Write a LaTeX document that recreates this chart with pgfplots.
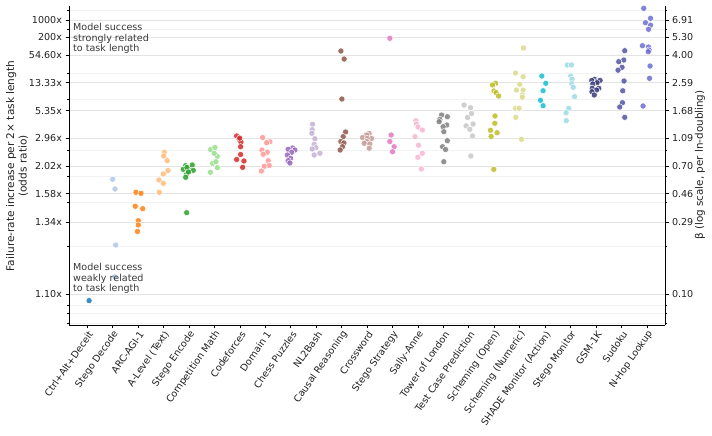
\documentclass[border=0pt]{standalone}
\usepackage{pgfplots}
\pgfplotsset{compat=1.18}
\usepackage{fontspec}
\setmainfont{DejaVu Sans}
\definecolor{c0}{HTML}{1F77B4}
\definecolor{c1}{HTML}{AEC7E8}
\definecolor{c2}{HTML}{FF7F0E}
\definecolor{c3}{HTML}{FFBB78}
\definecolor{c4}{HTML}{2CA02C}
\definecolor{c5}{HTML}{98DF8A}
\definecolor{c6}{HTML}{D62728}
\definecolor{c7}{HTML}{FF9896}
\definecolor{c8}{HTML}{9467BD}
\definecolor{c9}{HTML}{C5B0D5}
\definecolor{c10}{HTML}{8C564B}
\definecolor{c11}{HTML}{C49C94}
\definecolor{c12}{HTML}{E377C2}
\definecolor{c13}{HTML}{F7B6D2}
\definecolor{c14}{HTML}{7F7F7F}
\definecolor{c15}{HTML}{C7C7C7}
\definecolor{c16}{HTML}{BCBD22}
\definecolor{c17}{HTML}{DBDB8D}
\definecolor{c18}{HTML}{17BECF}
\definecolor{c19}{HTML}{9EDAE5}
\definecolor{c20}{HTML}{393B79}
\definecolor{c21}{HTML}{5254A3}
\definecolor{c22}{HTML}{6B6ECF}
\pgfplotsset{
  pts/.style={only marks, mark=*, mark size=3.1bp,
    mark options={draw=white, line width=0.5bp, fill=#1, fill opacity=0.85}},
}
\begin{document}
\begin{tikzpicture}[x=1bp,y=1bp]
\useasboundingbox (0,0) rectangle (712,436);
\begin{axis}[
  at={(69bp,111bp)}, anchor=south west, scale only axis,
  width=596bp, height=319bp, ymode=log,
  xmin=-0.72, xmax=22.71, ymin=0.0587, ymax=8.6,
  ytick={0.09531,0.29267,0.45742,0.70310,1.08519,1.67710,2.59001,4.0,5.29832,6.90776},
  minor ytick={0.06,0.07,0.08,0.2,0.4,0.6,0.9,2,3,6,8},
  tick align=outside, major tick length=3.5bp, minor tick length=2bp,
  tick style={black, line width=0.8bp},
  axis line style={black, line width=0.9bp},
  tick label style={font=\fontsize{9.6}{11}\selectfont, text=black!87},
  axis x line*=bottom, axis y line*=left,
  clip=false,
  xtick={0,...,22},
  xticklabels={Ctrl+Alt+Deceit, Stego Decode, ARC-AGI-1, A-Level (Text), Stego Encode, Competition Math, Codeforces, Domain 1, Chess Puzzles, NL2Bash, Causal Reasoning, Crossword, Stego Strategy, Sally-Anne, Tower of London, Test Case Prediction, Scheming (Open), Scheming (Numeric), SHADE Monitor (Action), Stego Monitor, GSM-1K, Sudoku, N-Hop Lookup},
  xticklabel style={rotate=55, anchor=east, inner sep=1bp, yshift=-5bp},
  yticklabels={1.10x,1.34x,1.58x,2.02x,2.96x,5.35x,13.33x,54.60x,200x,1000x},
  ymajorgrids, yminorgrids,
  major grid style={draw=black!11, line width=0.9bp},
  minor grid style={draw=black!5, line width=0.9bp},
]
\addplot[pts=c0] coordinates {(0.07,0.0859)};
\addplot[pts=c1] coordinates {(0.998,0.5727)(1.088,0.4920)(1.116,0.2050)(1.088,0.1243)};
\addplot[pts=c2] coordinates {(1.913,0.4673)(2.110,0.4600)(1.886,0.3754)(2.177,0.3616)(2.004,0.2997)(2.004,0.2803)(1.972,0.2532)};
\addplot[pts=c3] coordinates {(3.025,0.8732)(3.002,0.8240)(3.143,0.7658)(3.171,0.6573)(2.986,0.6221)(2.817,0.5665)(2.986,0.5380)(2.829,0.4673)};
\addplot[pts=c4] coordinates {(3.866,0.7083)(4.125,0.7160)(3.772,0.6693)(3.996,0.6589)(4.165,0.6589)(3.905,0.6221)(3.866,0.5909)(3.917,0.6884)(3.976,0.6419)(3.905,0.3398)};
\addplot[pts=c5] coordinates {(4.848,0.9122)(5.017,0.9412)(5.108,0.8204)(4.990,0.8598)(4.927,0.7354)(5.057,0.7540)(5.108,0.6864)(4.840,0.6390)};
\addplot[pts=c6] coordinates {(5.870,1.1267)(5.972,1.0666)(6.039,1.0259)(6.027,0.9530)(6.027,0.8437)(5.870,0.7805)(6.157,0.7623)(6.106,0.6907)(5.990,1.0900)};
\addplot[pts=c7] coordinates {(6.891,1.1006)(7.178,1.0307)(7.049,1.0146)(6.864,0.9051)(7.072,0.8732)(6.915,0.8464)(7.112,0.7658)(7.151,0.7104)(6.954,0.7017)(6.844,0.6518)};
\addplot[pts=c8] coordinates {(8.070,0.9339)(7.897,0.9152)(8.161,0.9051)(8.031,0.8732)(7.866,0.8371)(7.992,0.7951)(7.897,0.7658)(7.964,0.7389)};
\addplot[pts=c9] coordinates {(8.856,1.3526)(8.840,1.2433)(8.828,1.1750)(8.946,1.0802)(8.919,0.9895)(8.986,0.9384)(8.840,0.9194)(9.143,0.8598)(8.919,0.8371)};
\addplot[pts=c10] coordinates {(9.968,4.254)(10.097,3.754)(10.007,2.009)(10.152,1.1992)(10.058,1.1143)(9.968,1.0337)(10.086,1.0099)(10.030,0.9530)(9.940,0.9051)};
\addplot[pts=c11] coordinates {(11.080,1.1716)(10.977,1.1444)(10.820,1.1006)(11.174,1.0835)(11.001,1.0835)(10.977,1.0337)(10.883,1.0051)(11.107,0.9943)(11.080,0.9297)};
\addplot[pts=c12] coordinates {(11.893,5.189)(11.944,1.1444)(11.893,1.0337)(12.062,0.9530)(11.999,0.8815)};
\addplot[pts=c13] coordinates {(12.915,1.4309)(12.942,1.3590)(13.005,1.2970)(13.170,1.2374)(12.883,1.1143)(13.021,0.9757)(13.170,0.8598)(12.994,0.8076)(13.131,0.6726)};
\addplot[pts=c14] coordinates {(13.925,1.5643)(14.153,1.5234)(13.858,1.4629)(13.830,1.4091)(14.129,1.3383)(13.987,1.3030)(14.015,1.2050)(14.153,1.0469)(13.964,0.9530)(14.082,0.9122)(14.015,0.7540)};
\addplot[pts=c15] coordinates {(14.812,1.8289)(15.064,1.7535)(15.103,1.6015)(14.946,1.5046)(15.166,1.3590)(14.891,1.3213)(15.036,1.2511)(15.142,1.1267)(15.076,0.8240)};
\addplot[pts=c16] coordinates {(16.050,2.568)(15.928,2.500)(15.987,2.277)(16.070,2.218)(16.168,2.105)(16.027,1.540)(16.019,1.374)(15.850,1.232)(16.109,1.186)(15.873,1.118)(15.979,0.6693)};
\addplot[pts=c17] coordinates {(17.146,4.460)(16.832,3.016)(17.131,2.847)(17.001,2.528)(16.871,2.312)(17.131,2.312)(17.107,2.139)(17.099,2.063)(16.832,1.737)(16.974,1.737)(16.844,1.509)(17.068,1.070)};
\addplot[pts=c18] coordinates {(17.866,2.878)(18.023,2.568)(17.917,2.287)(17.815,1.969)(17.917,1.809)};
\addplot[pts=c19] coordinates {(18.868,3.419)(19.033,3.419)(19.005,2.878)(19.056,2.734)(19.045,2.548)(19.104,2.412)(19.155,2.083)(18.927,1.737)(18.821,1.622)(18.829,1.4309)};
\addplot[pts=c20] coordinates {(19.937,2.734)(19.830,2.683)(20.047,2.641)(20.157,2.683)(20.039,2.592)(19.870,2.540)(19.850,2.375)(20.106,2.375)(20.015,2.312)(19.838,2.252)(19.929,2.139)};
\addplot[pts=c21] coordinates {(21.127,4.274)(21.088,3.696)(20.891,3.600)(21.021,3.298)(20.864,3.152)(21.100,2.662)(21.048,2.284)(21.037,1.896)(20.931,1.773)(21.127,1.509)};
\addplot[pts=c22] coordinates {(21.874,8.29)(22.141,7.094)(21.941,6.622)(22.141,6.368)(22.063,5.974)(21.823,4.621)(22.059,4.529)(22.082,4.321)(22.051,4.208)(22.122,3.365)(22.102,2.776)(21.847,1.801)};
\end{axis}
\begin{axis}[
  at={(69bp,111bp)}, anchor=south west, scale only axis,
  width=596bp, height=319bp, ymode=log,
  xmin=-0.72, xmax=22.71, ymin=0.0587, ymax=8.6,
  ytick={0.09531,0.29267,0.45742,0.70310,1.08519,1.67710,2.59001,4.0,5.29832,6.90776},
  minor ytick={0.06,0.07,0.08,0.2,0.4,0.6,0.9,2,3,6,8},
  tick align=outside, major tick length=3.5bp, minor tick length=2bp,
  tick style={black, line width=0.8bp},
  axis line style={black, line width=0.9bp},
  tick label style={font=\fontsize{9.6}{11}\selectfont, text=black!87},
  axis x line=none, axis y line*=right,
  yticklabels={0.10,0.29,0.46,0.70,1.09,1.68,2.59,4.00,5.30,6.91},
]
\addplot[draw=none] coordinates {(0,1)};
\end{axis}
\node[rotate=90, align=center, font=\fontsize{10.6}{12.6}\selectfont, text=black!87] at (17,270) {Failure-rate increase per 2× task length\\(odds ratio)};
\node[rotate=90, font=\fontsize{10.4}{12.4}\selectfont, text=black!87] at (700,271) {β (log scale, per ln-doubling)};
\node[anchor=north west, align=left, inner sep=0pt, font=\fontsize{9.6}{10.8}\selectfont, text=black!78] at (73,413) {Model success\\strongly related\\to task length};
\node[anchor=north west, align=left, inner sep=0pt, font=\fontsize{9.6}{10.8}\selectfont, text=black!78] at (73,173) {Model success\\weakly related\\to task length};
\end{tikzpicture}
\end{document}
